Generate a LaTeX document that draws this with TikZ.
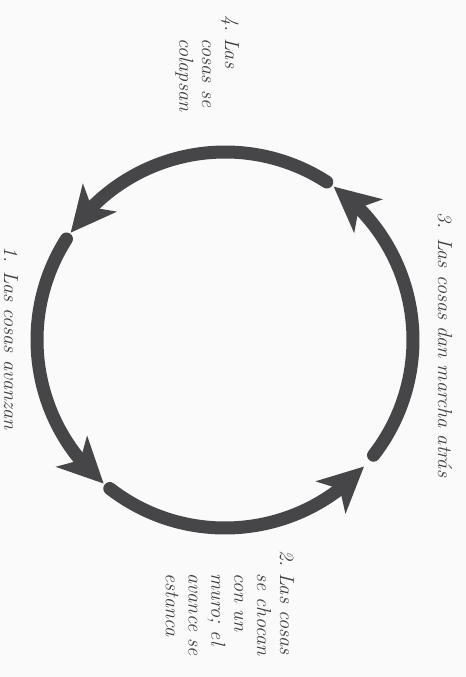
\documentclass[tikz,border=0pt]{standalone}
\usetikzlibrary{arrows.meta,bending}
\definecolor{arcgray}{RGB}{70,70,72}
\definecolor{inkgray}{RGB}{62,62,64}
\begin{document}
\begin{tikzpicture}[x=0.02cm,y=0.02cm,line join=round,line cap=round,
	>={Stealth[length=0.9cm,width=0.86cm,inset=0.24cm]}]
	\tikzset{lbl/.style={rotate=-90,inner sep=0pt,text=inkgray,
			font=\fontsize{11.5}{13}\selectfont\itshape},
		ring/.style={draw=arcgray,line width=0.26cm,->}}
	\fill[gray!4] (0,0) rectangle (466,-677);
	\useasboundingbox (0,0) rectangle (466,-677);
	\def\cx{225} \def\cy{-340} \def\r{188}
	\coordinate (c) at (\cx,\cy);
	% the four arcs of the cycle
	\foreach \a/\b in {147.5/229.8,232.2/317.7,322.2/414.7,57.2/145.2}
		\draw[ring] ([shift={(\a:\r)}]c) arc[start angle=\a,end angle=\b,radius=\r];
	% labels
	\node[lbl] (avanzan) at (11,-338) {1. Las cosas avanzan};
	\node[lbl] (atras) at (445,-345) {3. Las cosas dan marcha atrás};
	\node[lbl,anchor=base west] (choque) at (280,-550)
		{\begin{tabular}[t]{@{}l@{\ }l@{}}2.&Las cosas\\&se chocan\\&con un\\&muro; el\\&avance se\\&estanca\end{tabular}};
	\node[lbl,anchor=base west] (colapso) at (225,-15)
		{\begin{tabular}[t]{@{}l@{\ }l@{}}4.&Las\\&cosas se\\&colapsan\end{tabular}};
\end{tikzpicture}
\end{document}
